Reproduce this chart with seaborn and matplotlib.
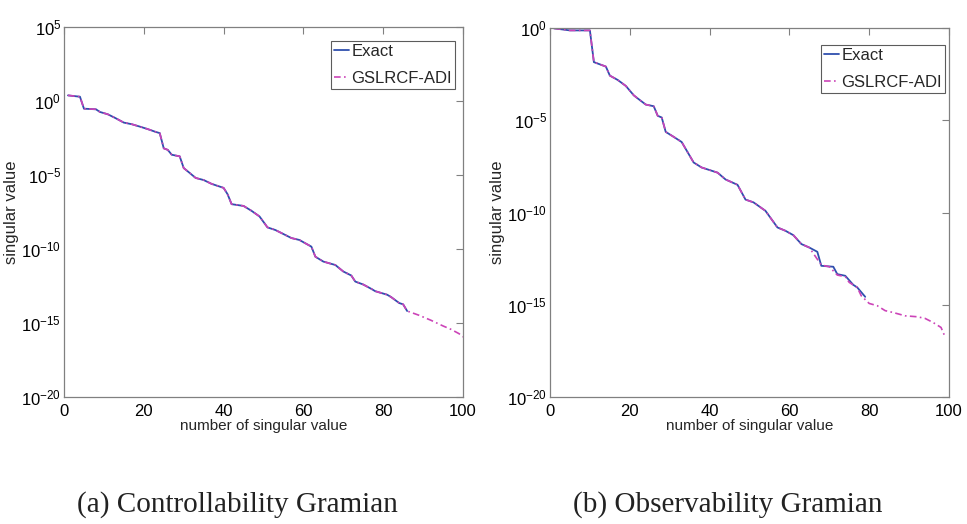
import numpy as np
import pandas as pd
import matplotlib
matplotlib.use("Agg")
import matplotlib.pyplot as plt
import seaborn as sns
from matplotlib.ticker import FixedLocator, FuncFormatter

# ---- data (log10 of singular values) ----
ctrl_exact_idx = [1, 4, 5, 8, 9, 11, 13, 15, 17, 19, 21, 23, 24, 25, 26, 27, 29, 30, 31, 33,
                  35, 37, 40, 41, 42, 45, 47, 49, 51, 53, 55, 57, 59, 62, 63, 65, 68, 70, 72, 73,
                  75, 77, 78, 81, 82, 84, 85, 86]
ctrl_exact_log = [0.38, 0.29, -0.52, -0.56, -0.74, -0.9, -1.17, -1.46, -1.57, -1.73,
                  -1.9, -2.09, -2.17, -3.2, -3.3, -3.63, -3.74, -4.53, -4.75, -5.2,
                  -5.34, -5.6, -5.87, -6.3, -6.97, -7.09, -7.42, -7.8, -8.54, -8.72,
                  -8.99, -9.26, -9.39, -9.84, -10.52, -10.85, -11.08, -11.52, -11.79, -12.2,
                  -12.4, -12.69, -12.85, -13.09, -13.25, -13.65, -13.74, -14.19]
ctrl_adi_idx = ctrl_exact_idx + [89, 92, 95, 97, 99, 100]
ctrl_adi_log = ctrl_exact_log + [-14.48, -14.82, -15.2, -15.43, -15.72, -15.94]

obs_exact_idx = [1, 5, 10, 11, 14, 15, 17, 19, 21, 22, 24, 26, 27, 28, 29, 31, 33, 36, 38, 42,
                 44, 47, 49, 51, 54, 57, 59, 61, 63, 65, 67, 68, 71, 72, 74, 76, 77, 79]
obs_exact_log = [-0.02, -0.13, -0.13, -1.85, -2.09, -2.58, -2.82, -3.14, -3.65, -3.82,
                 -4.15, -4.24, -4.76, -4.85, -5.63, -5.9, -6.18, -7.29, -7.56, -7.84,
                 -8.21, -8.5, -9.3, -9.45, -9.91, -10.81, -10.99, -11.23, -11.71, -11.9,
                 -12.13, -12.89, -12.94, -13.34, -13.43, -13.92, -14.06, -14.57]
obs_adi_idx = obs_exact_idx[:30] + [66, 68, 70, 72, 74, 75, 77, 78, 80, 82, 84, 86, 89, 92,
                                    94, 96, 98, 99]
obs_adi_log = obs_exact_log[:30] + [-12.22, -12.85, -12.94, -13.39, -13.48, -13.79, -14.06,
                                    -14.51, -14.93, -15.05, -15.32, -15.42, -15.6, -15.65,
                                    -15.74, -15.96, -16.23, -16.73]

series_names = ["Exact", "GSLRCF-ADI"]
x_ticks = [0, 20, 40, 60, 80, 100]
ctrl_yexp = [5, 0, -5, -10, -15, -20]
obs_yexp = [0, -5, -10, -15, -20]
captions = ["(a) Controllability Gramian", "(b) Observability Gramian"]

# ---- style ----
sns.set_theme(style="white")
plt.rcParams["font.family"] = ["Liberation Sans", "DejaVu Sans"]
plt.rcParams["mathtext.fontset"] = "custom"
plt.rcParams["mathtext.rm"] = "Liberation Sans"
plt.rcParams["mathtext.it"] = "Liberation Sans:italic"
plt.rcParams["mathtext.bf"] = "Liberation Sans:bold"

c_exact = "#2f4fae"
c_adi = "#cc44b8"
c_axis = "#808080"

fig = plt.figure(figsize=(9.67, 5.24), dpi=100)
ax1 = fig.add_axes([64 / 967, 127 / 524, 399 / 967, 370 / 524])
ax2 = fig.add_axes([550 / 967, 127 / 524, 399 / 967, 369 / 524])


def draw(ax, ex_i, ex_l, ad_i, ad_l, yexp, leg_anchor):
    df_e = pd.DataFrame({"i": ex_i, "v": np.power(10.0, ex_l)})
    df_a = pd.DataFrame({"i": ad_i, "v": np.power(10.0, ad_l)})
    sns.lineplot(data=df_e, x="i", y="v", ax=ax, color=c_exact, lw=1.3,
                 label=series_names[0], estimator=None)
    sns.lineplot(data=df_a, x="i", y="v", ax=ax, color=c_adi, lw=1.2,
                 linestyle=(0, (4, 2, 1, 2)), label=series_names[1], estimator=None)
    ax.set_yscale("log")
    ax.set_xlim(0, 100)
    ax.set_ylim(10.0 ** min(yexp), 10.0 ** max(yexp))
    ax.xaxis.set_major_locator(FixedLocator(x_ticks))
    ax.yaxis.set_major_locator(FixedLocator([10.0 ** e for e in yexp]))
    ax.yaxis.set_minor_locator(FixedLocator([]))
    ax.yaxis.set_major_formatter(FuncFormatter(
        lambda v, p: r"$10^{%d}$" % int(round(np.log10(v)))))
    ax.tick_params(which="both", direction="in", top=True, right=True, length=5,
                   width=0.8, color=c_axis, labelsize=12, labelcolor="black")
    ax.tick_params(axis="x", pad=5)
    ax.tick_params(axis="y", pad=2)
    for s in ax.spines.values():
        s.set_color(c_axis)
        s.set_linewidth(0.9)
    ax.set_xlabel("number of singular value", fontsize=11, labelpad=0)
    ax.set_ylabel("singular value", fontsize=12)
    ax.yaxis.set_label_coords(-0.113, 0.5)
    leg = ax.legend(loc="upper right", frameon=True, fancybox=False, fontsize=12,
                    handlelength=0.95, handletextpad=0.12, borderpad=0.18,
                    labelspacing=0.7, borderaxespad=0,
                    bbox_to_anchor=leg_anchor)
    leg.get_frame().set_edgecolor("#333333")
    leg.get_frame().set_linewidth(0.8)


draw(ax1, ctrl_exact_idx, ctrl_exact_log, ctrl_adi_idx, ctrl_adi_log, ctrl_yexp,
     (1 - 8 / 399, 1 - 14 / 370))
draw(ax2, obs_exact_idx, obs_exact_log, obs_adi_idx, obs_adi_log, obs_yexp,
     (1 - 4 / 399, 1 - 17 / 369))

fig.text(237 / 967, 1 - 505 / 524, captions[0], ha="center", va="center",
         fontsize=21, family=["Liberation Serif", "DejaVu Serif"], color="#222222")
fig.text(728 / 967, 1 - 505 / 524, captions[1], ha="center", va="center",
         fontsize=21, family=["Liberation Serif", "DejaVu Serif"], color="#222222")

fig.savefig("out.png", dpi=100)
